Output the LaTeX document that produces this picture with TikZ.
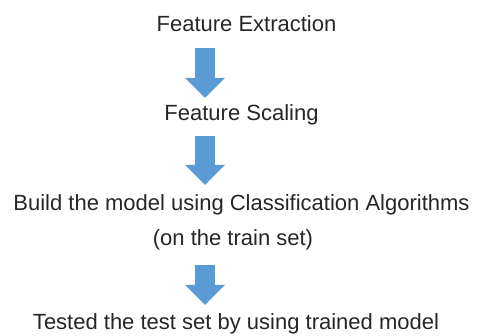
\documentclass[tikz,border=0pt]{standalone}
\usepackage{fontspec}
\setmainfont{Liberation Sans}
\usetikzlibrary{arrows.meta}
\definecolor{arrowblue}{HTML}{5B9BD5}

\begin{document}
\begin{tikzpicture}[x=1pt,y=-1pt]
	 \tikzstyle{stage}=[anchor=base,inner sep=2pt,text height=16pt,text depth=5pt,font=\fontsize{22}{26}\selectfont,text=black!85]
	 \tikzstyle{flow}=[draw=arrowblue,line width=20pt,-{Triangle[width=40pt,length=20pt,line width=0pt]}]
	 \useasboundingbox (0,0) rectangle (477,335);
	 \node[stage] (fe) at (246.5,31) {Feature Extraction};
	 \node[stage] (fs) at (241.5,120) {Feature Scaling};
	 \node[stage] (bm) at (241.5,210) {Build the model using Classification Algorithms};
	 \node[stage] (ts) at (233,245) {(on the train set)};
	 \node[stage] (tm) at (236,329) {Tested the test set by using trained model};
	 \coordinate (ax) at (205,0);
	 \draw[flow,shorten <=10pt,shorten >=4pt] (fe.south -| ax) -- (fs.north -| ax);
	 \draw[flow,shorten <=9pt,shorten >=7pt] (fs.south -| ax) -- (bm.north -| ax);
	 \draw[flow,shorten <=13pt,shorten >=6pt] (ts.south -| ax) -- (tm.north -| ax);
\end{tikzpicture}
\end{document}
